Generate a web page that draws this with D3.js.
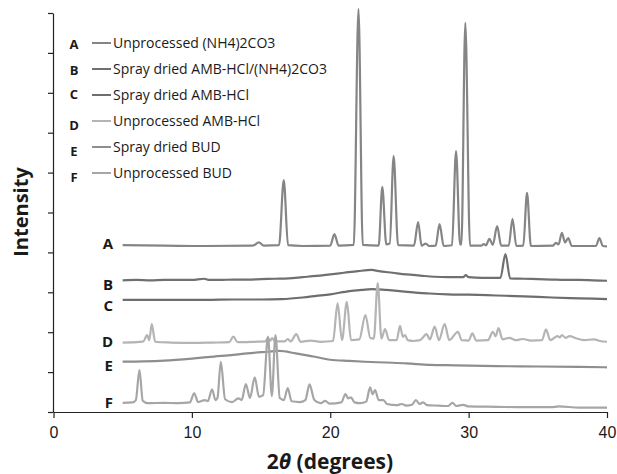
<!DOCTYPE html>
<html>
<head>
<meta charset="utf-8">
<script src="https://cdn.jsdelivr.net/npm/d3@7"></script>
<style>
  body { margin: 0; background: #fff; }
  svg { font-family: "Open Sans", sans-serif; }
</style>
</head>
<body>
<svg class="chart"></svg>
<script>
// sample codes and legend names
var keys = ["A", "B", "C", "D", "E", "F"];
var names = ["Unprocessed (NH4)2CO3", "Spray dried AMB-HCl/(NH4)2CO3", "Spray dried AMB-HCl",
             "Unprocessed AMB-HCl", "Spray dried BUD", "Unprocessed BUD"];
var xTicks = [0, 10, 20, 30, 40];

// patterns: [2theta, stacked intensity]
var patA = [[5.0, 4.18], [8, 4.17], [11, 4.16], [14.4, 4.17], [14.84, 4.25], [15.2, 4.17], [16.3, 4.18],
  [16.64, 5.81], [16.95, 4.18], [18, 4.16], [20.0, 4.17], [20.3, 4.46], [20.6, 4.17], [21.7, 4.19],
  [22.04, 10.1], [22.35, 4.19], [23.5, 4.17], [23.76, 5.64], [24.05, 4.2], [24.3, 4.22], [24.58, 6.42],
  [24.9, 4.18], [26.05, 4.17], [26.35, 4.76], [26.6, 4.17], [26.9, 4.22], [27.15, 4.16], [27.62, 4.17],
  [27.9, 4.71], [28.2, 4.16], [28.8, 4.18], [29.09, 6.54], [29.38, 4.2], [29.48, 4.2], [29.76, 9.75],
  [30.1, 4.17], [30.9, 4.17], [31.1, 4.21], [31.25, 4.18], [31.5, 4.34], [31.75, 4.19], [32.06, 4.66],
  [32.35, 4.17], [32.9, 4.17], [33.17, 4.84], [33.45, 4.16], [33.95, 4.17], [34.22, 5.49], [34.5, 4.16],
  [36.1, 4.17], [36.3, 4.24], [36.5, 4.2], [36.74, 4.49], [36.97, 4.25], [37.2, 4.36], [37.45, 4.16],
  [39.2, 4.16], [39.45, 4.36], [39.7, 4.16], [40, 4.15]];
var patB = [[5.0, 3.30], [6, 3.31], [7, 3.30], [8, 3.31], [9, 3.31], [10, 3.31], [10.9, 3.34], [11.2, 3.31],
  [12, 3.31], [13, 3.32], [14, 3.32], [15, 3.33], [16, 3.34], [17, 3.35], [18, 3.38], [19, 3.41], [20, 3.45],
  [21, 3.49], [22, 3.53], [23, 3.56], [23.5, 3.53], [24.5, 3.49], [25.5, 3.45], [26.5, 3.42], [27.5, 3.39],
  [28.5, 3.38], [29.6, 3.38], [29.8, 3.43], [30.0, 3.38], [31, 3.36], [32.3, 3.36], [32.66, 3.96], [33.0, 3.35],
  [34, 3.34], [35, 3.33], [36, 3.32], [37, 3.31], [38, 3.31], [39, 3.30], [40, 3.29]];
var patC = [[5.0, 2.81], [7, 2.81], [9, 2.81], [11, 2.81], [13, 2.82], [15, 2.82], [16.5, 2.83], [18, 2.87],
  [19, 2.91], [20, 2.95], [21.4, 3.03], [22.3, 3.06], [23, 3.08], [24, 3.06], [25, 3.03], [26, 3.0],
  [27.2, 2.97], [28.5, 2.95], [30, 2.94], [32, 2.92], [34, 2.9], [36, 2.87], [38, 2.85], [40, 2.83]];
var patD = [[5.0, 1.74], [6.0, 1.75], [6.5, 1.77], [6.76, 1.93], [6.92, 1.8], [7.1, 2.2], [7.35, 1.76],
  [8.5, 1.74], [10, 1.73], [11.5, 1.74], [12.7, 1.75], [13.0, 1.89], [13.3, 1.75], [14.5, 1.76], [15.3, 1.77],
  [15.5, 1.85], [15.65, 1.78], [15.8, 1.85], [16.0, 1.77], [16.7, 1.77], [16.93, 1.83], [17.15, 1.77],
  [17.55, 1.95], [17.85, 1.76], [18.56, 1.79], [19.3, 1.76], [20.2, 1.78], [20.53, 2.72], [20.85, 1.8],
  [21.2, 2.76], [21.5, 1.8], [22.1, 1.82], [22.54, 2.43], [22.9, 1.85], [23.15, 1.84], [23.43, 3.23],
  [23.7, 1.84], [23.96, 2.08], [24.25, 1.8], [24.8, 1.8], [25.04, 2.16], [25.25, 1.88], [25.4, 1.93],
  [25.6, 1.8], [26.0, 1.78], [26.5, 1.8], [26.96, 1.95], [27.2, 1.82], [27.55, 2.14], [27.85, 1.8],
  [28.27, 2.2], [28.6, 1.8], [29.23, 2.01], [29.5, 1.8], [30.0, 1.79], [30.27, 1.97], [30.55, 1.79],
  [31.4, 1.8], [31.75, 2.01], [31.95, 1.9], [32.16, 2.1], [32.45, 1.82], [32.95, 1.86], [33.4, 1.8],
  [33.9, 1.83], [34.5, 1.79], [35.3, 1.8], [35.59, 2.07], [35.9, 1.8], [36.43, 1.9], [36.6, 1.87],
  [36.74, 1.93], [37.0, 1.86], [37.3, 1.9], [37.74, 1.85], [38.35, 1.8], [39.06, 1.82], [39.5, 1.78], [40, 1.76]];
var patE = [[5.0, 1.26], [6.5, 1.27], [8, 1.29], [10, 1.34], [11.6, 1.39], [13, 1.43], [14, 1.47],
  [15.5, 1.51], [16.3, 1.53], [17.5, 1.47], [18.8, 1.39], [20, 1.31], [21.4, 1.28], [22.5, 1.26], [24, 1.24],
  [25.5, 1.22], [27.2, 1.18], [29, 1.17], [32, 1.15], [35, 1.14], [38, 1.13], [40, 1.12]];
var patF = [[5.0, 0.23], [5.7, 0.24], [5.95, 0.3], [6.21, 1.05], [6.45, 0.28], [6.8, 0.22], [8, 0.23],
  [9, 0.22], [9.85, 0.24], [10.17, 0.47], [10.45, 0.25], [10.94, 0.3], [11.15, 0.27], [11.46, 0.57],
  [11.7, 0.3], [11.85, 0.35], [12.09, 1.26], [12.4, 0.32], [12.9, 0.25], [13.36, 0.34], [13.6, 0.3],
  [13.9, 0.7], [14.2, 0.35], [14.54, 0.87], [14.85, 0.38], [15.15, 0.42], [15.5, 1.89], [15.78, 0.4],
  [16.04, 1.93], [16.35, 0.35], [16.65, 0.3], [16.93, 0.6], [17.2, 0.27], [17.8, 0.25], [18.2, 0.3],
  [18.5, 0.69], [18.85, 0.3], [19.3, 0.22], [19.64, 0.28], [19.95, 0.21], [20.8, 0.24], [21.1, 0.45],
  [21.3, 0.34], [21.49, 0.37], [21.75, 0.24], [22.16, 0.22], [22.6, 0.26], [22.88, 0.62], [23.06, 0.45],
  [23.24, 0.55], [23.5, 0.3], [23.84, 0.3], [24.1, 0.2], [24.8, 0.17], [25.16, 0.2], [25.5, 0.16],
  [25.9, 0.18], [26.19, 0.3], [26.45, 0.2], [26.71, 0.24], [27.0, 0.17], [27.8, 0.16], [28.5, 0.15],
  [28.83, 0.23], [29.1, 0.15], [29.6, 0.18], [30, 0.14], [32, 0.13], [34, 0.12], [36, 0.12], [36.5, 0.14],
  [38, 0.11], [40, 0.11]];
var patterns = [patA, patB, patC, patD, patE, patF];

var colors = ["#858585", "#707070", "#6e6e6e", "#b4b4b4", "#8e8e8e", "#a6a6a6"];
var labelDy = [3.5, 9.5, 11.5, 4, 9.5, 5];   // trace letters were placed by hand in the original
var keyDy = [5.5, 6, 4, 8.5, 8.5, 8.5];

var width = 617;
var height = 474;

var x = d3.scaleLinear()
            .domain([0, 40])
            .range([53.5, 607]);
var y = d3.scaleLinear()
            .domain([0, 10])
            .range([412, 13]);

var svg = d3.select(".chart")
            .attr("width", width)
            .attr("height", height);

var line = d3.line()
            .x(function(d) { return x(d[0]); })
            .y(function(d) { return y(d[1]); })
            .curve(d3.curveMonotoneX);

svg.selectAll("path.trace")
    .data(patterns)
    .enter()
    .append("path")
    .attr("class", "trace")
    .attr("d", line)
    .attr("fill", "none")
    .attr("stroke", function(d, i) { return colors[i]; })
    .attr("stroke-width", 2.2)
    .attr("stroke-linejoin", "round");

// letters at the start of each trace
svg.selectAll("text.tag")
    .data(patterns)
    .enter()
    .append("text")
    .attr("class", "tag")
    .attr("x", 113)
    .attr("y", function(d, i) { return y(d[0][1]) + labelDy[i]; })
    .attr("text-anchor", "end")
    .style("font-size", "15px")
    .style("font-weight", "bold")
    .style("fill", "#1a1a1a")
    .text(function(d, i) { return keys[i]; });

// axes
var xAxis = d3.axisBottom(x)
            .tickValues(xTicks)
            .tickSize(6)
            .tickSizeOuter(0)
            .tickPadding(9);
var yAxis = d3.axisLeft(y)
            .ticks(10)
            .tickSize(5)
            .tickSizeOuter(0)
            .tickFormat("");

var gx = svg.append("g")
    .attr("transform", "translate(0," + y(0) + ")")
    .call(xAxis);
gx.selectAll("text").style("font-size", "16px").style("fill", "#1a1a1a");

var gy = svg.append("g")
    .attr("transform", "translate(53,0)")
    .call(yAxis);

svg.selectAll(".domain, .tick line")
    .attr("stroke", "#222")
    .attr("stroke-width", 1.2);

// legend
var legend = svg.append("g");
var rows = legend.selectAll("g")
    .data(keys)
    .enter()
    .append("g")
    .attr("transform", function(d, i) { return "translate(0," + (43 + i * 26) + ")"; });

rows.append("text")
    .attr("x", 74)
    .attr("y", function(d, i) { return keyDy[i]; })
    .attr("text-anchor", "middle")
    .style("font-size", "13px")
    .style("font-weight", "bold")
    .style("fill", "#1a1a1a")
    .text(function(d) { return d; });

rows.append("line")
    .attr("x1", 92)
    .attr("x2", 111)
    .attr("stroke", function(d, i) { return colors[i]; })
    .attr("stroke-width", 2);

rows.append("text")
    .attr("x", 113)
    .attr("y", 5)
    .style("font-size", "14px")
    .style("fill", "#1a1a1a")
    .text(function(d, i) { return names[i]; });

// axis titles
svg.append("text")
    .attr("transform", "translate(28,212) rotate(-90)")
    .attr("text-anchor", "middle")
    .style("font-size", "20px")
    .style("font-weight", "bold")
    .style("fill", "#1a1a1a")
    .text("Intensity");

var xt = svg.append("text")
    .attr("x", 330)
    .attr("y", 469)
    .attr("text-anchor", "middle")
    .style("font-size", "21px")
    .style("font-weight", "bold")
    .style("fill", "#1a1a1a");
xt.append("tspan").text("2");
xt.append("tspan").style("font-style", "italic").text("θ");
xt.append("tspan").text(" (degrees)");
</script>
</body>
</html>
